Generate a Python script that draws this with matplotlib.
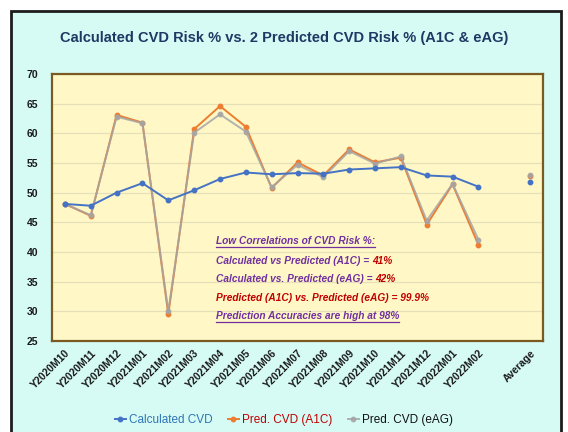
import numpy as np
import matplotlib
matplotlib.use("Agg")
import matplotlib.pyplot as plt
from matplotlib.patches import Rectangle
from matplotlib.lines import Line2D

plt.rcParams['font.family'] = ['Liberation Sans', 'DejaVu Sans']

months = ['Y2020M10', 'Y2020M11', 'Y2020M12', 'Y2021M01', 'Y2021M02', 'Y2021M03',
          'Y2021M04', 'Y2021M05', 'Y2021M06', 'Y2021M07', 'Y2021M08', 'Y2021M09',
          'Y2021M10', 'Y2021M11', 'Y2021M12', 'Y2022M01', 'Y2022M02']
labels = months + ['', 'Average']

calc_cvd = [48.1, 47.8, 50.0, 51.6, 48.7, 50.4, 52.3, 53.4, 53.1, 53.3, 53.2, 53.9,
            54.1, 54.3, 52.9, 52.7, 51.0]
pred_a1c = [48.1, 46.1, 63.1, 61.8, 29.5, 60.7, 64.6, 61.1, 50.8, 55.1, 52.9, 57.3,
            55.1, 55.9, 44.6, 51.4, 41.2]
pred_eag = [48.1, 46.2, 62.8, 61.7, 30.0, 60.1, 63.2, 60.3, 50.9, 54.7, 52.6, 57.0,
            54.9, 56.1, 45.3, 51.5, 42.1]
avg_calc = 51.8
avg_a1c = 52.8
avg_eag = 53.0

def with_avg(vals, avg):
    return np.array(vals + [np.nan, avg], dtype=float)

W, H = 568, 432
fig = plt.figure(figsize=(W / 100, H / 100), dpi=100, facecolor='white')
bg = Rectangle((11 / W, -0.02), (561 - 11) / W, (H - 11) / H + 0.02,
               transform=fig.transFigure, facecolor='#d6fbf5',
               edgecolor='#1c1c1c', linewidth=2, zorder=-10)
fig.patches.append(bg)

ax = fig.add_axes([52 / W, 1 - 341 / H, (543 - 52) / W, (341 - 74) / H], zorder=1)
ax.set_facecolor('#fff8c6')
for s in ax.spines.values():
    s.set_color('#7a5a20')
    s.set_linewidth(1.6)

x = np.arange(len(labels))
ax.plot(x, with_avg(pred_a1c, avg_a1c), color='#ed7d31', lw=1.4, marker='o', ms=3.2,
        label='Pred. CVD (A1C)', zorder=3)
ax.plot(x, with_avg(pred_eag, avg_eag), color='#a5a5a5', lw=1.4, marker='o', ms=3.2,
        alpha=0.85, label='Pred. CVD (eAG)', zorder=4)
ax.plot(x, with_avg(calc_cvd, avg_calc), color='#4472c4', lw=1.4, marker='o', ms=3.2,
        label='Calculated CVD', zorder=5)

ax.set_xlim(-0.5, len(labels) - 0.5)
ax.set_ylim(25, 70)
ax.set_yticks(np.arange(25, 71, 5))
ax.yaxis.grid(True, color='#e6dfb8', lw=0.9)
ax.set_axisbelow(True)
ax.tick_params(length=0)
ax.tick_params(axis='y', pad=10, labelsize=7.5)
ax.tick_params(axis='x', pad=5, labelsize=7.5)
ax.set_xticks(x)
ax.set_xticklabels(labels, rotation=45, ha='right', rotation_mode='anchor')
for t in ax.get_xticklabels() + ax.get_yticklabels():
    t.set_fontweight('bold')
    t.set_color('#1a1a1a')

fig.text(0.5, 1 - 38 / H, 'Calculated CVD Risk % vs. 2 Predicted CVD Risk % (A1C & eAG)',
         ha='center', va='center', fontsize=10.5, fontweight='bold', color='#1f3864')

purple = '#7030a0'
red = '#c00000'
note_lines = [
    [('Low Correlations of CVD Risk %:', purple)],
    [('Calculated vs Predicted (A1C) = ', purple), ('41%', red)],
    [('Calculated vs. Predicted (eAG) = ', purple), ('42%', red)],
    [('Predicted (A1C) vs. Predicted (eAG) = 99.9%', red)],
    [('Prediction Accuracies are high at 98%', purple)],
]
underlined = [0, 4]
ys = [241, 261, 279, 298, 316]

fig.canvas.draw()
renderer = fig.canvas.get_renderer()
for i, (parts, yp) in enumerate(zip(note_lines, ys)):
    xp = 216
    for txt, col in parts:
        t = fig.text(xp / W, 1 - yp / H, txt, ha='left', va='center', fontsize=7.3,
                     fontweight='bold', fontstyle='italic', color=col, zorder=6)
        bb = t.get_window_extent(renderer)
        xp = bb.x1
        if i in underlined:
            fig.lines.append(Line2D([bb.x0 / W, bb.x1 / W],
                                    [(bb.y0 - 0.5) / H, (bb.y0 - 0.5) / H],
                                    transform=fig.transFigure, color=col, lw=0.9,
                                    zorder=6))

handles, leg_labels = ax.get_legend_handles_labels()
order = [2, 0, 1]
leg = fig.legend([handles[k] for k in order], [leg_labels[k] for k in order],
                 loc='center', bbox_to_anchor=(0.5, 1 - 420 / H), ncol=3, frameon=False,
                 fontsize=8.5, handlelength=0.9, handletextpad=0.3, columnspacing=1.3)
for t, c in zip(leg.get_texts(), ['#2e75b6', red, '#111111']):
    t.set_color(c)

fig.savefig('out.png', dpi=100, facecolor=fig.get_facecolor())
